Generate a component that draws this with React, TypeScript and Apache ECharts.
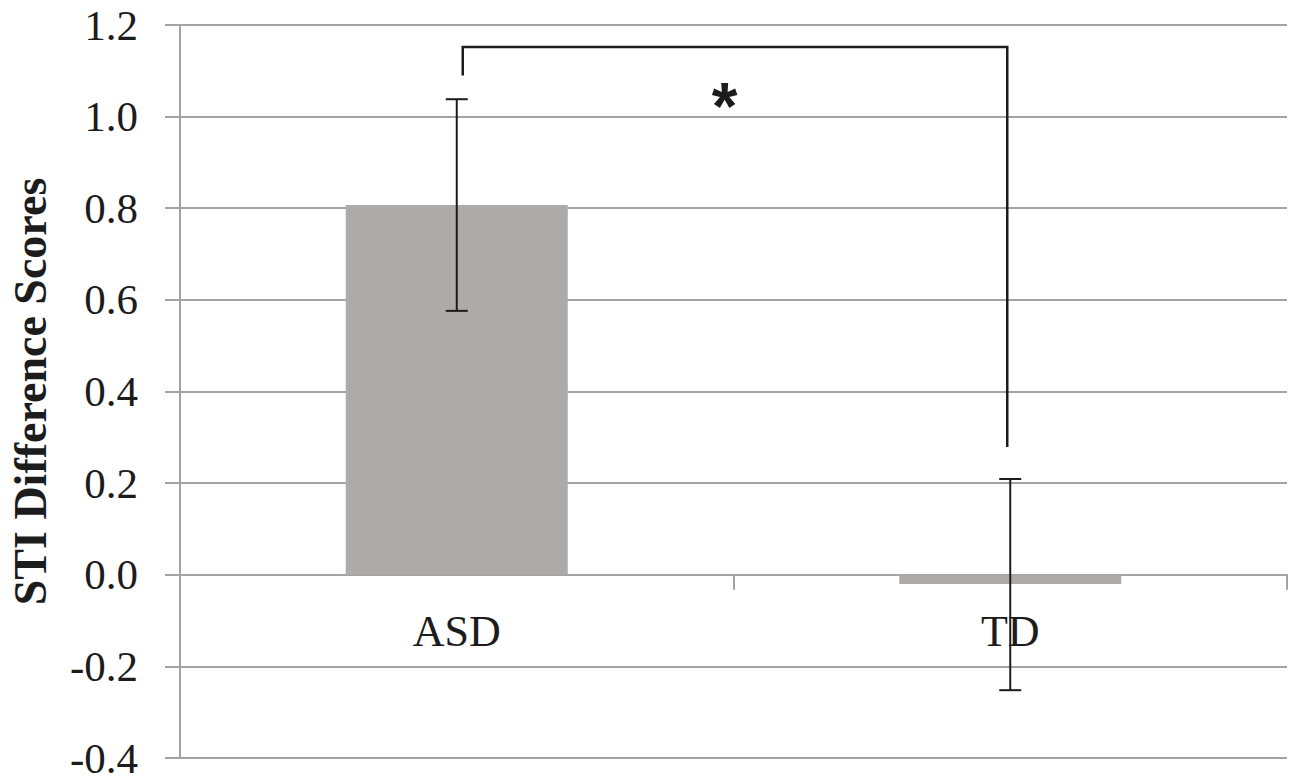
import React, { useEffect, useRef } from "react";
import * as echarts from "echarts";

const categories = ["ASD", "TD"];
const means = [0.807, -0.02];
const errHigh = [1.038, 0.209];
const errLow = [0.576, -0.252];
// significance bracket (data units)
const bracketTop = 1.152;
const bracketLeftBottom = 1.09;
const bracketRightBottom = 0.279;
const starY = 1.05;
const yMin = -0.4;
const yMax = 1.2;
const yStep = 0.2;

const SERIF = "'Times New Roman', 'Liberation Serif', serif";
const GRID_COLOR = "#a3a3a3";
const INK = "#1c1c1c";

export default function App() {
  const ref = useRef<HTMLDivElement>(null);

  useEffect(() => {
    if (!ref.current) return;
    const chart = echarts.init(ref.current, null, { renderer: "svg" });
    chart.setOption({
      animation: false,
      backgroundColor: "#ffffff",
      grid: { left: 180, right: 13, top: 25, bottom: 24, containLabel: false, outerBoundsMode: "none" },
      xAxis: {
        type: "category",
        data: categories,
        axisLine: { onZero: true, lineStyle: { color: GRID_COLOR, width: 2 } },
        axisTick: { show: true, length: 15, alignWithLabel: false, lineStyle: { color: GRID_COLOR, width: 2 } },
        axisLabel: { show: false },
        splitLine: { show: false },
      },
      yAxis: {
        type: "value",
        min: yMin,
        max: yMax,
        interval: yStep,
        name: "STI Difference Scores",
        nameLocation: "middle",
        nameGap: 127,
        nameTextStyle: { color: INK, fontFamily: SERIF, fontSize: 46, fontWeight: "bold" },
        axisLine: { show: true, onZero: false, lineStyle: { color: GRID_COLOR, width: 2 } },
        axisTick: { show: true, length: 15, lineStyle: { color: GRID_COLOR, width: 2 } },
        axisLabel: {
          color: INK,
          fontFamily: SERIF,
          fontSize: 43,
          margin: 42,
          formatter: (v: number) => v.toFixed(1),
        },
        splitLine: { show: true, lineStyle: { color: GRID_COLOR, width: 2 } },
      },
      series: [
        {
          type: "bar",
          data: means,
          barWidth: 222,
          itemStyle: { color: "#adaaaa" },
          z: 2,
        },
        {
          // category labels under the zero line
          type: "custom",
          z: 4,
          data: categories.map((_, i) => [i, 0]),
          encode: { x: 0, y: 1 },
          renderItem: (params: any, api: any) => {
            const i = api.value(0);
            const p = api.coord([i, api.value(1)]);
            return {
              type: "text",
              style: {
                text: categories[i],
                x: p[0],
                y: p[1] + 35,
                fill: INK,
                font: `44px ${SERIF}`,
                align: "center",
                verticalAlign: "top",
              },
            };
          },
        },
        {
          type: "custom",
          z: 5,
          data: categories.map((_, i) => [i, errHigh[i], errLow[i]]),
          encode: { x: 0, y: [1, 2] },
          renderItem: (params: any, api: any) => {
            const x = api.value(0);
            const pHi = api.coord([x, api.value(1)]);
            const pLo = api.coord([x, api.value(2)]);
            const hw = 11;
            const st = { stroke: INK, lineWidth: 2 };
            return {
              type: "group",
              children: [
                { type: "line", shape: { x1: pHi[0], y1: pHi[1], x2: pLo[0], y2: pLo[1] }, style: st },
                { type: "line", shape: { x1: pHi[0] - hw, y1: pHi[1], x2: pHi[0] + hw, y2: pHi[1] }, style: st },
                { type: "line", shape: { x1: pLo[0] - hw, y1: pLo[1], x2: pLo[0] + hw, y2: pLo[1] }, style: st },
              ],
            };
          },
        },
        {
          type: "custom",
          z: 6,
          data: [[0, 1, bracketTop, bracketLeftBottom, bracketRightBottom, starY]],
          encode: { x: [0, 1], y: [2, 3, 4] },
          renderItem: (params: any, api: any) => {
            const a = api.value(0);
            const b = api.value(1);
            const pLB = api.coord([a, api.value(3)]);
            const pLT = api.coord([a, api.value(2)]);
            const pRT = api.coord([b, api.value(2)]);
            const pRB = api.coord([b, api.value(4)]);
            const pS = api.coord([a, api.value(5)]);
            const xl = pLB[0] + 6;
            const xr = pRB[0] - 3;
            const sx = (pLB[0] + pRB[0]) / 2 - 9;
            return {
              type: "group",
              children: [
                {
                  type: "polyline",
                  shape: { points: [[xl, pLB[1]], [xl, pLT[1]], [xr, pRT[1]], [xr, pRB[1]]] },
                  style: { stroke: INK, lineWidth: 2.5, fill: null },
                },
                {
                  type: "text",
                  style: {
                    text: "*",
                    x: sx,
                    y: pS[1] + 12,
                    fill: INK,
                    font: "bold 66px 'Liberation Sans', Arial, sans-serif",
                    align: "center",
                    verticalAlign: "middle",
                  },
                },
              ],
            };
          },
        },
      ],
    });
    return () => chart.dispose();
  }, []);

  return (
    <div
      ref={ref}
      style={{ position: "absolute", left: 0, top: 0, width: 1300, height: 782 }}
    />
  );
}
